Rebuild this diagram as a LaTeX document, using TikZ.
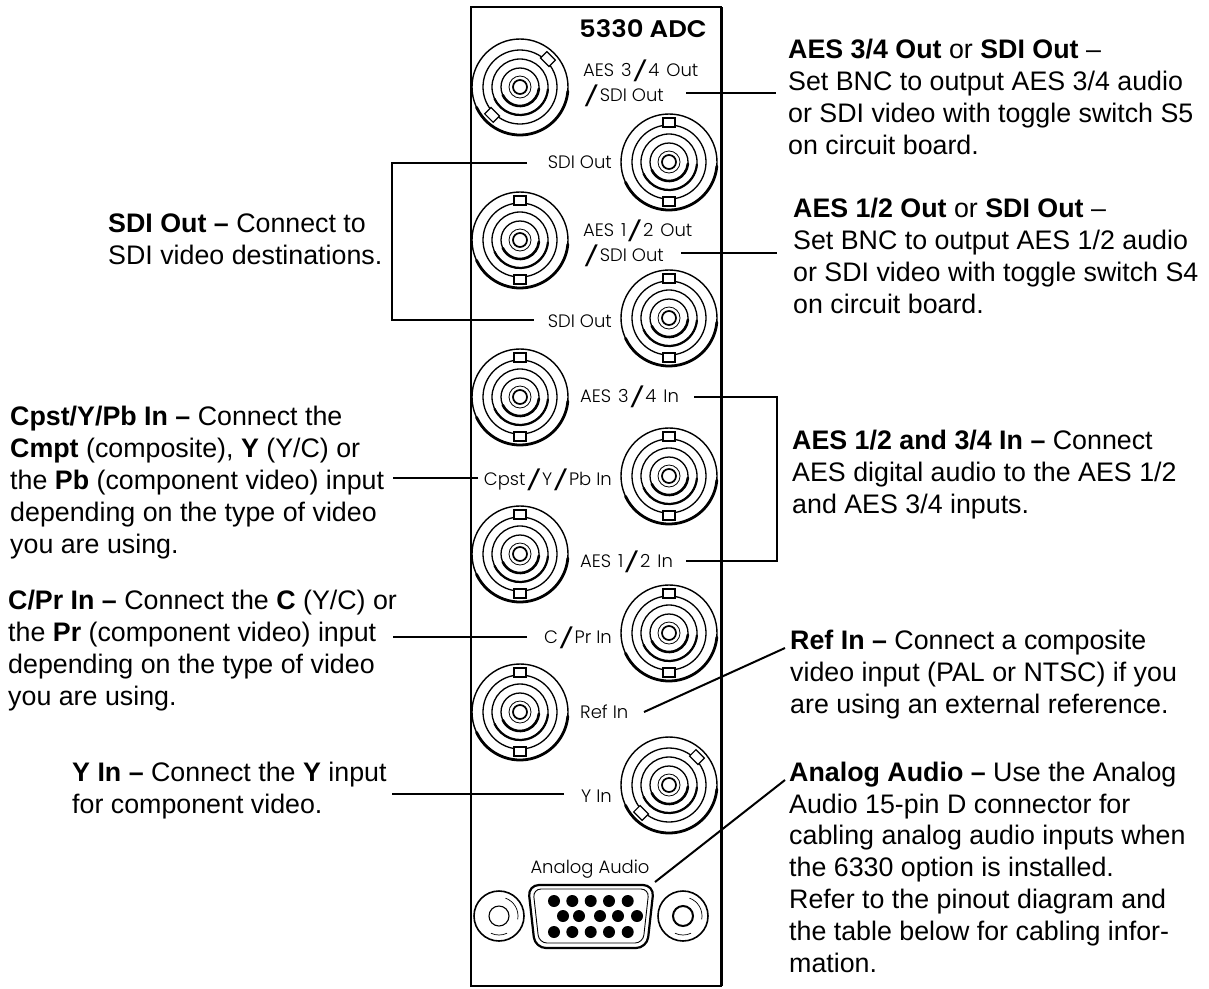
\documentclass[tikz,border=0pt]{standalone}
\usepackage{fontspec}
\setmainfont{Liberation Sans}
\newfontfamily\panelfont{Poppins Light}
\newfontfamily\paneltitle{Poppins SemiBold}[FakeStretch=1.08]
\usetikzlibrary{positioning, calc}

\tikzset{
  callout/.style={anchor=base west,inner sep=0pt,align=left,font=\fontsize{26.8}{31.8}\selectfont},
  panellabel/.style={inner sep=0pt,font=\panelfont\fontsize{18}{20}\selectfont},
  leader/.style={line width=2pt,black},
}

% the long slash of the panel lettering
\newcommand{\pnlslash}{\raisebox{-2pt}{\scalebox{2.1}[1.1]{/}}}

% one BNC connector: centre, name, angle of the bayonet pins
\newcommand{\bncjack}[3]{
  \coordinate (#2) at (#1);
  \foreach \r/\w in {48/1.4,37/1.3,28/1.3,19/1.3,11/0.8,7/1.7}
    \draw[line width=\w pt] (#2) circle (\r);
  \foreach \r/\w in {48/2.8,28/2.2,19/2.6}
    \draw[line width=\w pt,line cap=round] ($(#2)+(205:\r)$) arc (205:355:\r);
  \foreach \a in {#3,#3+180}
    \draw[line width=1.1pt,fill=white,shift={(#2)},rotate=\a] (35,-6) rectangle (44,6);
}

% the small screw next to the D connector
\newcommand{\dscrew}[3]{
  \coordinate (#2) at (#1);
  \draw[line width=1.6pt] (#2) circle (25);
  \draw[line width=#3pt] (#2) circle (10);
  \draw[line width=0.7pt] ($(#2)+(70:19)$) arc (70:-10:19);
  \draw[line width=0.7pt] ($(#2)+(-65:19)$) arc (-65:-115:19);
}

\begin{document}
\begin{tikzpicture}[x=1pt,y=1pt]
  \useasboundingbox (0,-988) rectangle (1209,0);

  % Panel
  \draw[line width=2.6pt] (471,-7) rectangle (721,-986);
  \draw[line width=1.2pt] (722.4,-7) -- (722.4,-986);

  % Connectors, left column
  \bncjack{520,-87}{jackA}{45}
  \bncjack{520,-240}{jackC}{90}
  \bncjack{520,-397}{jackE}{90}
  \bncjack{520,-554}{jackG}{90}
  \bncjack{520,-712}{jackJ}{90}

  % Connectors, right column
  \bncjack{669,-162}{jackB}{90}
  \bncjack{669,-318}{jackD}{90}
  \bncjack{669,-476}{jackF}{90}
  \bncjack{669,-633}{jackH}{90}
  \bncjack{669,-785}{jackK}{45}

  % D connector
  \dscrew{499,-916}{screwL}{1.1}
  \dscrew{683,-916}{screwR}{2}
  \draw[line width=2.2pt,rounded corners=11pt] (528,-885) -- (654,-885) -- (647,-948) -- (535,-948) -- cycle;
  \draw[line width=0.9pt,rounded corners=8pt] (533,-889) -- (649,-889) -- (643,-943) -- (539,-943) -- cycle;
  \foreach \x in {554,572.3,590.7,609,627.7} {
    \fill (\x,-901) circle (6);
    \fill (\x,-932) circle (6);
  }
  \foreach \x in {563,579,600,618,637}
    \fill (\x,-916) circle (6);

  % Panel labels
  \node[inner sep=0pt,anchor=base east,font=\paneltitle\fontsize{24}{24}\selectfont] (title) at (707,-37) {5330 ADC};
  \node[panellabel,anchor=base west] (lblAesThreeOut) at (583,-76) {AES\kern2pt\ 3\pnlslash 4\kern2pt\ Out};
  \node[panellabel,anchor=base west] (lblSdiA) at (583,-101) {\pnlslash SDI Out};
  \node[panellabel,anchor=base east] (lblSdiB) at (612,-168) {SDI Out};
  \node[panellabel,anchor=base west] (lblAesOneOut) at (583,-236) {AES\kern2pt\ 1\pnlslash 2\kern2pt\ Out};
  \node[panellabel,anchor=base west] (lblSdiC) at (583,-261) {\pnlslash SDI Out};
  \node[panellabel,anchor=base east] (lblSdiD) at (612,-327) {SDI Out};
  \node[panellabel,anchor=base west] (lblAesThreeIn) at (580,-402) {AES\kern2pt\ 3\pnlslash 4\kern2pt\ In};
  \node[panellabel,anchor=base east] (lblCpst) at (612,-485) {Cpst\pnlslash Y\pnlslash Pb In};
  \node[panellabel,anchor=base west] (lblAesOneIn) at (580,-567) {AES\kern2pt\ 1\pnlslash 2\kern2pt\ In};
  \node[panellabel,anchor=base east] (lblCpr) at (612,-643) {C\pnlslash Pr In};
  \node[panellabel,anchor=base west] (lblRef) at (580,-718) {Ref In};
  \node[panellabel,anchor=base east] (lblY) at (612,-802) {Y In};
  \node[panellabel,anchor=base] (lblAnalog) at (590,-873) {Analog Audio};

  % Callouts, right
  \node[callout] (txtAesThreeOut) at (788,-154) {\textbf{AES 3/4 Out} or \textbf{SDI Out} --\\Set BNC to output AES 3/4 audio\\or SDI video with toggle switch S5\\on circuit board.};
  \node[callout] (txtAesOneOut) at (793,-313) {\textbf{AES 1/2 Out} or \textbf{SDI Out} --\\Set BNC to output AES 1/2 audio\\or SDI video with toggle switch S4\\on circuit board.};
  \node[callout] (txtAesIn) at (792,-513) {\textbf{AES 1/2 and 3/4 In --} Connect\\AES digital audio to the AES 1/2\\and AES 3/4 inputs.};
  \node[callout] (txtRef) at (790,-713) {\textbf{Ref In --} Connect a composite\\video input (PAL or NTSC) if you\\are using an external reference.};
  \node[callout] (txtAnalog) at (789,-972) {\textbf{Analog Audio --} Use the Analog\\Audio 15-pin D connector for\\cabling analog audio inputs when\\the 6330 option is installed.\\Refer to the pinout diagram and\\the table below for cabling infor-\\mation.};

  % Callouts, left
  \node[callout] (txtSdi) at (108,-264) {\textbf{SDI Out --} Connect to\\SDI video destinations.};
  \node[callout] (txtCpst) at (10,-553) {\textbf{Cpst/Y/Pb In --} Connect the\\\textbf{Cmpt} (composite), \textbf{Y} (Y/C) or\\the \textbf{Pb} (component video) input\\depending on the type of video\\you are using.};
  \node[callout] (txtCpr) at (8,-705) {\textbf{C/Pr In --} Connect the \textbf{C} (Y/C) or\\the \textbf{Pr} (component video) input\\depending on the type of video\\you are using.};
  \node[callout] (txtY) at (72,-813) {\textbf{Y In --} Connect the \textbf{Y} input\\for component video.};

  % Leader ends
  \coordinate (aesThreeStart) at (686,-93);
  \coordinate (aesThreeEnd) at (776,-93);
  \coordinate (aesOneStart) at (681,-253);
  \coordinate (aesOneEnd) at (777,-253);
  \coordinate (sdiStartA) at (527,-163);
  \coordinate (sdiStartB) at (534,-320);
  \coordinate (sdiTop) at (392,-163);
  \coordinate (sdiBot) at (392,-320);
  \coordinate (aesInStartA) at (694,-397);
  \coordinate (aesInStartB) at (686,-561);
  \coordinate (aesInTop) at (777,-397);
  \coordinate (aesInBot) at (777,-561);
  \coordinate (cpstStart) at (478,-478);
  \coordinate (cpstEnd) at (393,-478);
  \coordinate (cprStart) at (527,-637);
  \coordinate (cprEnd) at (393,-637);
  \coordinate (refStart) at (644,-712);
  \coordinate (refEnd) at (785,-648);
  \coordinate (yStart) at (564,-794);
  \coordinate (yEnd) at (392,-794);
  \coordinate (analogStart) at (655,-882);
  \coordinate (analogEnd) at (785,-780);

  % Leaders
  \draw[leader] (aesThreeStart) -- (aesThreeEnd);
  \draw[leader] (aesOneStart) -- (aesOneEnd);
  \draw[leader] (sdiStartA) -- (sdiTop) -- (sdiBot) -- (sdiStartB);
  \draw[leader] (aesInStartA) -- (aesInTop) -- (aesInBot) -- (aesInStartB);
  \draw[leader] (cpstStart) -- (cpstEnd);
  \draw[leader] (cprStart) -- (cprEnd);
  \draw[leader] (refStart) -- (refEnd);
  \draw[leader] (yStart) -- (yEnd);
  \draw[leader] (analogStart) -- (analogEnd);
\end{tikzpicture}
\end{document}
